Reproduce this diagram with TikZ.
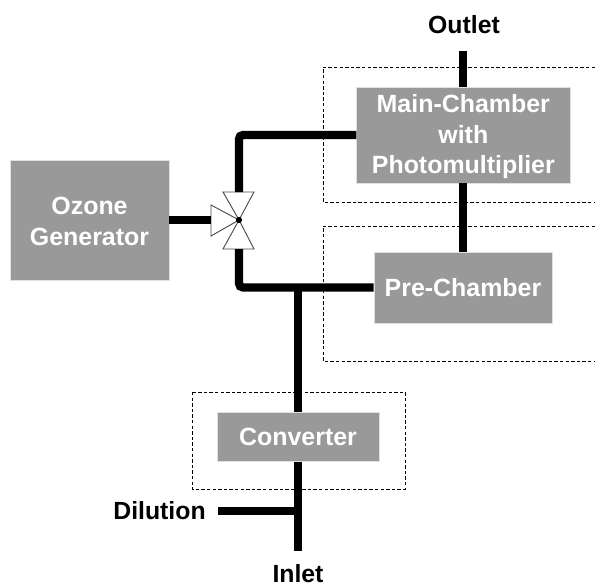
\documentclass[tikz,border=0pt]{standalone}
\usepackage{fontspec}
\setmainfont{Liberation Sans}
\tikzset{box/.style={draw=black!12, line width=0.5pt, fill=black!40, text=white, inner sep=0pt, align=center, font=\fontsize{18.7}{23}\selectfont\bfseries},
        lbl/.style={inner sep=0pt, font=\fontsize{18.6}{22}\selectfont\bfseries},
        pipe/.style={line width=6.2pt, draw=black},
        frame/.style={line width=0.5pt, dash pattern=on 2.6pt off 1.6pt},
        flap/.style={draw=black!70, line width=0.7pt, fill=white}}

\begin{document}
\begin{tikzpicture}[x=0.75pt, y=-0.75pt]
    \useasboundingbox (0,0) rectangle (595,585);

    % dashed enclosures
    \draw[frame] (595,67) -- (323,67) -- (323,202) -- (595,202);
    \draw[frame] (595,226) -- (323,226) -- (323,361) -- (595,361);
    \draw[frame] (192,392) rectangle (405,489);

    \node (ozone) at (89.5,220) [box, minimum width=119.25pt, minimum height=90pt] {\rule{0pt}{15pt}Ozone\\Generator};
    \node (main) at (463.3,135) [box, minimum width=160pt, minimum height=72pt] {\rule{0pt}{16pt}Main-Chamber\\with\\Photomultiplier};
    \node (pre) at (463,287.5) [box, minimum width=133.5pt, minimum height=53.5pt] {Pre-Chamber};
    \node (conv) at (298,436.5) [box, minimum width=121.5pt, minimum height=37pt] {Converter};

    \node (outlet) at (464,25) [lbl] {Outlet};
    \node (dilution) at (159.5,511) [lbl] {Dilution};
    \node (inlet) at (298,574) [lbl] {Inlet};

    % valve
    \coordinate (valve) at (239,220);
    \coordinate (vtop) at (239,192);
    \coordinate (vbot) at (239,249);
    \coordinate (vleft) at (211,220);
    \draw[flap] (valve) -- (223,192) -- (254,192) -- cycle;
    \draw[flap] (valve) -- (223,249) -- (254,249) -- cycle;
    \draw[flap] (valve) -- (211,205) -- (211,236) -- cycle;
    \fill (valve) circle (2.3pt);

    % pipes
    \coordinate (outend) at (463.3,51);
    \coordinate (dilend) at (218,511);
    \coordinate (inend) at (298,551);
    \draw[pipe] (outend) -- (main.north);
    \draw[pipe] (main.south) -- (main.south |- pre.north);
    \draw[pipe] (ozone.east |- vleft) -- (vleft);
    \draw[pipe, rounded corners=3pt] (vtop) |- (main.west);
    \draw[pipe, rounded corners=3pt] (vbot) |- (pre.west);
    \draw[pipe] (conv.north) -- (conv.north |- pre.west);
    \draw[pipe] (conv.south) -- (inend);
    \draw[pipe] (dilend) -- (dilend -| conv.south);
\end{tikzpicture}
\end{document}
